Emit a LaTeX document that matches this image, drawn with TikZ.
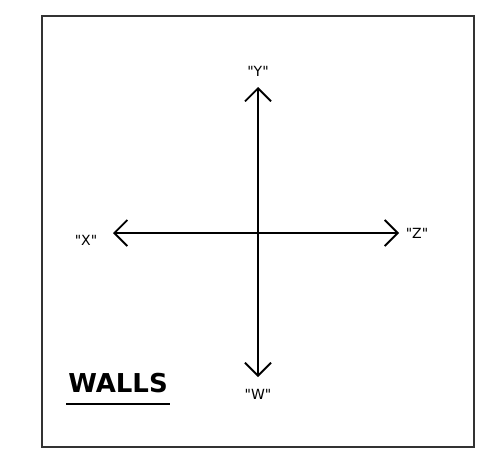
\documentclass[tikz,border=0pt]{standalone}
\usepackage{fontspec}
\setmainfont{DejaVu Sans}
\usetikzlibrary{arrows.meta}
\newcommand{\kutip}[1]{\textquotedbl#1\textquotedbl}

\begin{document}
\begin{tikzpicture}[
    x=1pt, y=-1pt,
    rand/.style={draw=black!80, line width=1.8pt},
    panah/.style={-{Straight Barb[length=13pt, width=26pt, line width=1.8pt]}, line width=1.8pt},
    ket/.style={font=\fontsize{14}{16}\selectfont, inner sep=1pt},
    judul/.style={font=\fontsize{26}{30}\selectfont\bfseries, inner sep=0pt}
  ]
    \useasboundingbox (0,0) rectangle (483,463);
    \draw[rand] (42,16) rectangle (474,447);
    \coordinate (pusat) at (258,233);
    \coordinate (atas) at (258,87);
    \coordinate (bawah) at (258,377);
    \coordinate (kiri) at (113,233);
    \coordinate (kanan) at (399,233);
    \draw[panah] (pusat) -- (atas);
    \draw[panah] (pusat) -- (bawah);
    \draw[panah] (pusat) -- (kiri);
    \draw[panah] (pusat) -- (kanan);
    \node[ket] (ly) at (258,71) {\kutip{Y}};
    \node[ket] (lx) at (86,240) {\kutip{X}};
    \node[ket] (lz) at (417,233) {\kutip{Z}};
    \node[ket] (lw) at (258,394) {\kutip{W}};
    \node[judul] (walls) at (118,383) {WALLS};
    \draw[line width=1.8pt] (66,404) -- (170,404);
  \end{tikzpicture}
\end{document}
